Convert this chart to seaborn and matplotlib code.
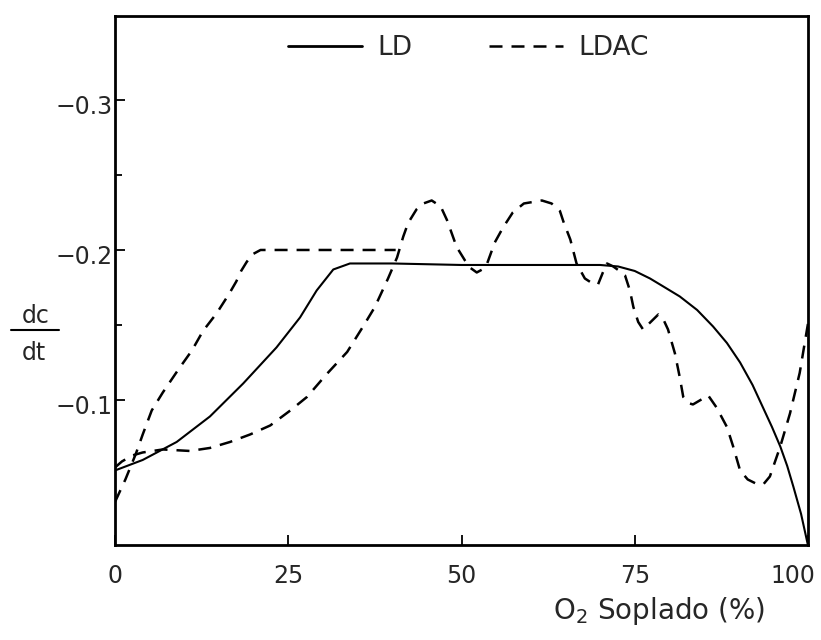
import matplotlib
matplotlib.use("Agg")
import matplotlib.pyplot as plt
from matplotlib.lines import Line2D
import matplotlib.transforms as mtransforms
import seaborn as sns
import numpy as np

# ---- data ----
ld_x = [0, 4, 8.9, 13.7, 18.5, 23.3, 26.7, 29.1, 31.5, 33.9, 40, 50, 60, 70,
        72.6, 75, 77.2, 79, 81.5, 84, 86.3, 88.3, 90.2, 92, 93.5, 94.8, 96.0,
        97.0, 97.9, 99, 100]
ld_y = [-0.053, -0.060, -0.072, -0.089, -0.111, -0.135, -0.155, -0.173, -0.187,
        -0.191, -0.191, -0.190, -0.190, -0.190, -0.189, -0.186, -0.181, -0.176,
        -0.169, -0.160, -0.149, -0.138, -0.125, -0.110, -0.095, -0.082, -0.069,
        -0.056, -0.042, -0.024, -0.003]

ldac_a_x = [0, 1.5, 3, 4, 5.3, 6.9, 9.1, 11.1, 12.7, 14.7, 16.5, 17.5, 18.2,
            19.0, 19.8, 21, 30, 40.5]
ldac_a_y = [-0.032, -0.047, -0.064, -0.077, -0.093, -0.105, -0.120, -0.133,
            -0.146, -0.158, -0.171, -0.179, -0.186, -0.192, -0.197, -0.200,
            -0.200, -0.200]

ldac_b_x = [0, 1, 2.5, 4, 6.9, 10.8, 13.7, 16.6, 19.5, 22.4, 25.3, 27.7, 30.5,
            33.5, 35.8, 37.5, 39.4, 40.7, 41.6, 42.3, 43.5, 44.5, 45.7, 47,
            47.9, 49.3, 50.5, 51.3, 52.2, 53.0, 53.7, 54.8, 56.0, 57.4, 59,
            61.6, 63, 64.2, 64.7, 65.7, 66.6, 67.8, 68.8, 69.7, 70.4, 71.0,
            71.9, 72.8, 73.6, 74.3, 74.8, 75.5, 76.2, 77.3, 78.4, 79.2, 79.8,
            80.8, 81.5, 82.0, 82.7, 83.4, 84.5, 85.6, 86.8, 88.3, 89.2, 90.2,
            91.3, 92.6, 93.6, 94.5, 96.0, 97.4, 98.8, 100]
ldac_b_y = [-0.055, -0.059, -0.063, -0.065, -0.067, -0.066, -0.068, -0.072,
            -0.077, -0.083, -0.093, -0.102, -0.117, -0.132, -0.149, -0.162,
            -0.181, -0.195, -0.209, -0.218, -0.227, -0.231, -0.233, -0.229,
            -0.220, -0.202, -0.193, -0.188, -0.185, -0.187, -0.191, -0.205,
            -0.215, -0.225, -0.231, -0.233, -0.231, -0.226, -0.219, -0.207,
            -0.191, -0.181, -0.178, -0.177, -0.185, -0.191, -0.189, -0.186,
            -0.183, -0.173, -0.162, -0.152, -0.147, -0.152, -0.157, -0.153,
            -0.147, -0.131, -0.115, -0.102, -0.098, -0.097, -0.100, -0.103,
            -0.095, -0.082, -0.069, -0.053, -0.047, -0.044, -0.044, -0.049,
            -0.069, -0.091, -0.118, -0.151]

x_ticks = [0, 25, 50, 75, 100]
x_tick_labels = ["0", "25", "50", "75", "100"]
y_ticks = [-0.3, -0.2, -0.1]
y_tick_labels = ["\u22120.3", "\u22120.2", "\u22120.1"]
y_minor = [-0.25, -0.15]
series_labels = ["LD", "LDAC"]

# ---- style ----
sns.set_theme(style="white")
plt.rcParams["font.family"] = ["DejaVu Sans"]
plt.rcParams["mathtext.fontset"] = "dejavusans"

fig = plt.figure(figsize=(8.21, 6.4), dpi=100)
ax = fig.add_axes([115 / 821, 1 - 545 / 640, 693 / 821, 529 / 640])

FS = 17
dash = (5.2, 3.6)

sns.lineplot(x=ld_x, y=ld_y, ax=ax, color="black", lw=1.5,
             sort=False, estimator=None)
sns.lineplot(x=ldac_a_x, y=ldac_a_y, ax=ax, color="black", lw=1.8,
             sort=False, estimator=None, linestyle=(0, dash))
sns.lineplot(x=ldac_b_x, y=ldac_b_y, ax=ax, color="black", lw=1.8,
             sort=False, estimator=None, linestyle=(0, dash))

ax.set_xlim(0, 100)
ax.set_ylim(-0.0033, -0.356)

ax.set_xticks(x_ticks)
ax.set_xticklabels(x_tick_labels, fontsize=FS)
ax.set_yticks(y_ticks)
ax.set_yticklabels(y_tick_labels, fontsize=FS)
ax.set_yticks(y_minor, minor=True)

ax.tick_params(axis="both", which="both", direction="in", color="black",
               width=1.3, bottom=True, left=True, top=False, right=False)
ax.tick_params(axis="x", which="major", length=7, pad=14)
ax.tick_params(axis="y", which="major", length=7, pad=1.5)
ax.tick_params(axis="y", which="minor", length=5)

# nudge the "100" label inward as in the reference
lab100 = ax.get_xticklabels()[-1]
lab100.set_transform(lab100.get_transform() +
                     mtransforms.ScaledTranslation(-15 / 100, 0, fig.dpi_scale_trans))
# y labels sit slightly below their ticks in the reference
for lab in ax.get_yticklabels():
    lab.set_transform(lab.get_transform() +
                      mtransforms.ScaledTranslation(0, -5 / 100, fig.dpi_scale_trans))

for s in ax.spines.values():
    s.set_visible(True)
    s.set_color("black")
    s.set_linewidth(2.0)

ax.set_xlabel("O$_2$ Soplado (%)", fontsize=20)
ax.xaxis.set_label_coords(0.785, -0.095)
ax.set_ylabel("")

# dc/dt fraction label
fig.text(36 / 821, 1 - 316 / 640, "dc", fontsize=FS, ha="center", va="center")
fig.add_artist(Line2D([11 / 821, 59 / 821], [1 - 330 / 640, 1 - 330 / 640],
                      transform=fig.transFigure, color="black", lw=1.5))
fig.text(34 / 821, 1 - 353 / 640, "dt", fontsize=FS, ha="center", va="center")

handles = [Line2D([], [], color="black", lw=2.0),
           Line2D([], [], color="black", lw=1.8, linestyle=(0, dash))]
ax.legend(handles, series_labels, loc="center", bbox_to_anchor=(0.51, 0.94),
          ncol=2, frameon=False, fontsize=19, handlelength=2.8,
          handletextpad=0.6, columnspacing=2.9)

fig.savefig("out.png", dpi=100, facecolor="white")
